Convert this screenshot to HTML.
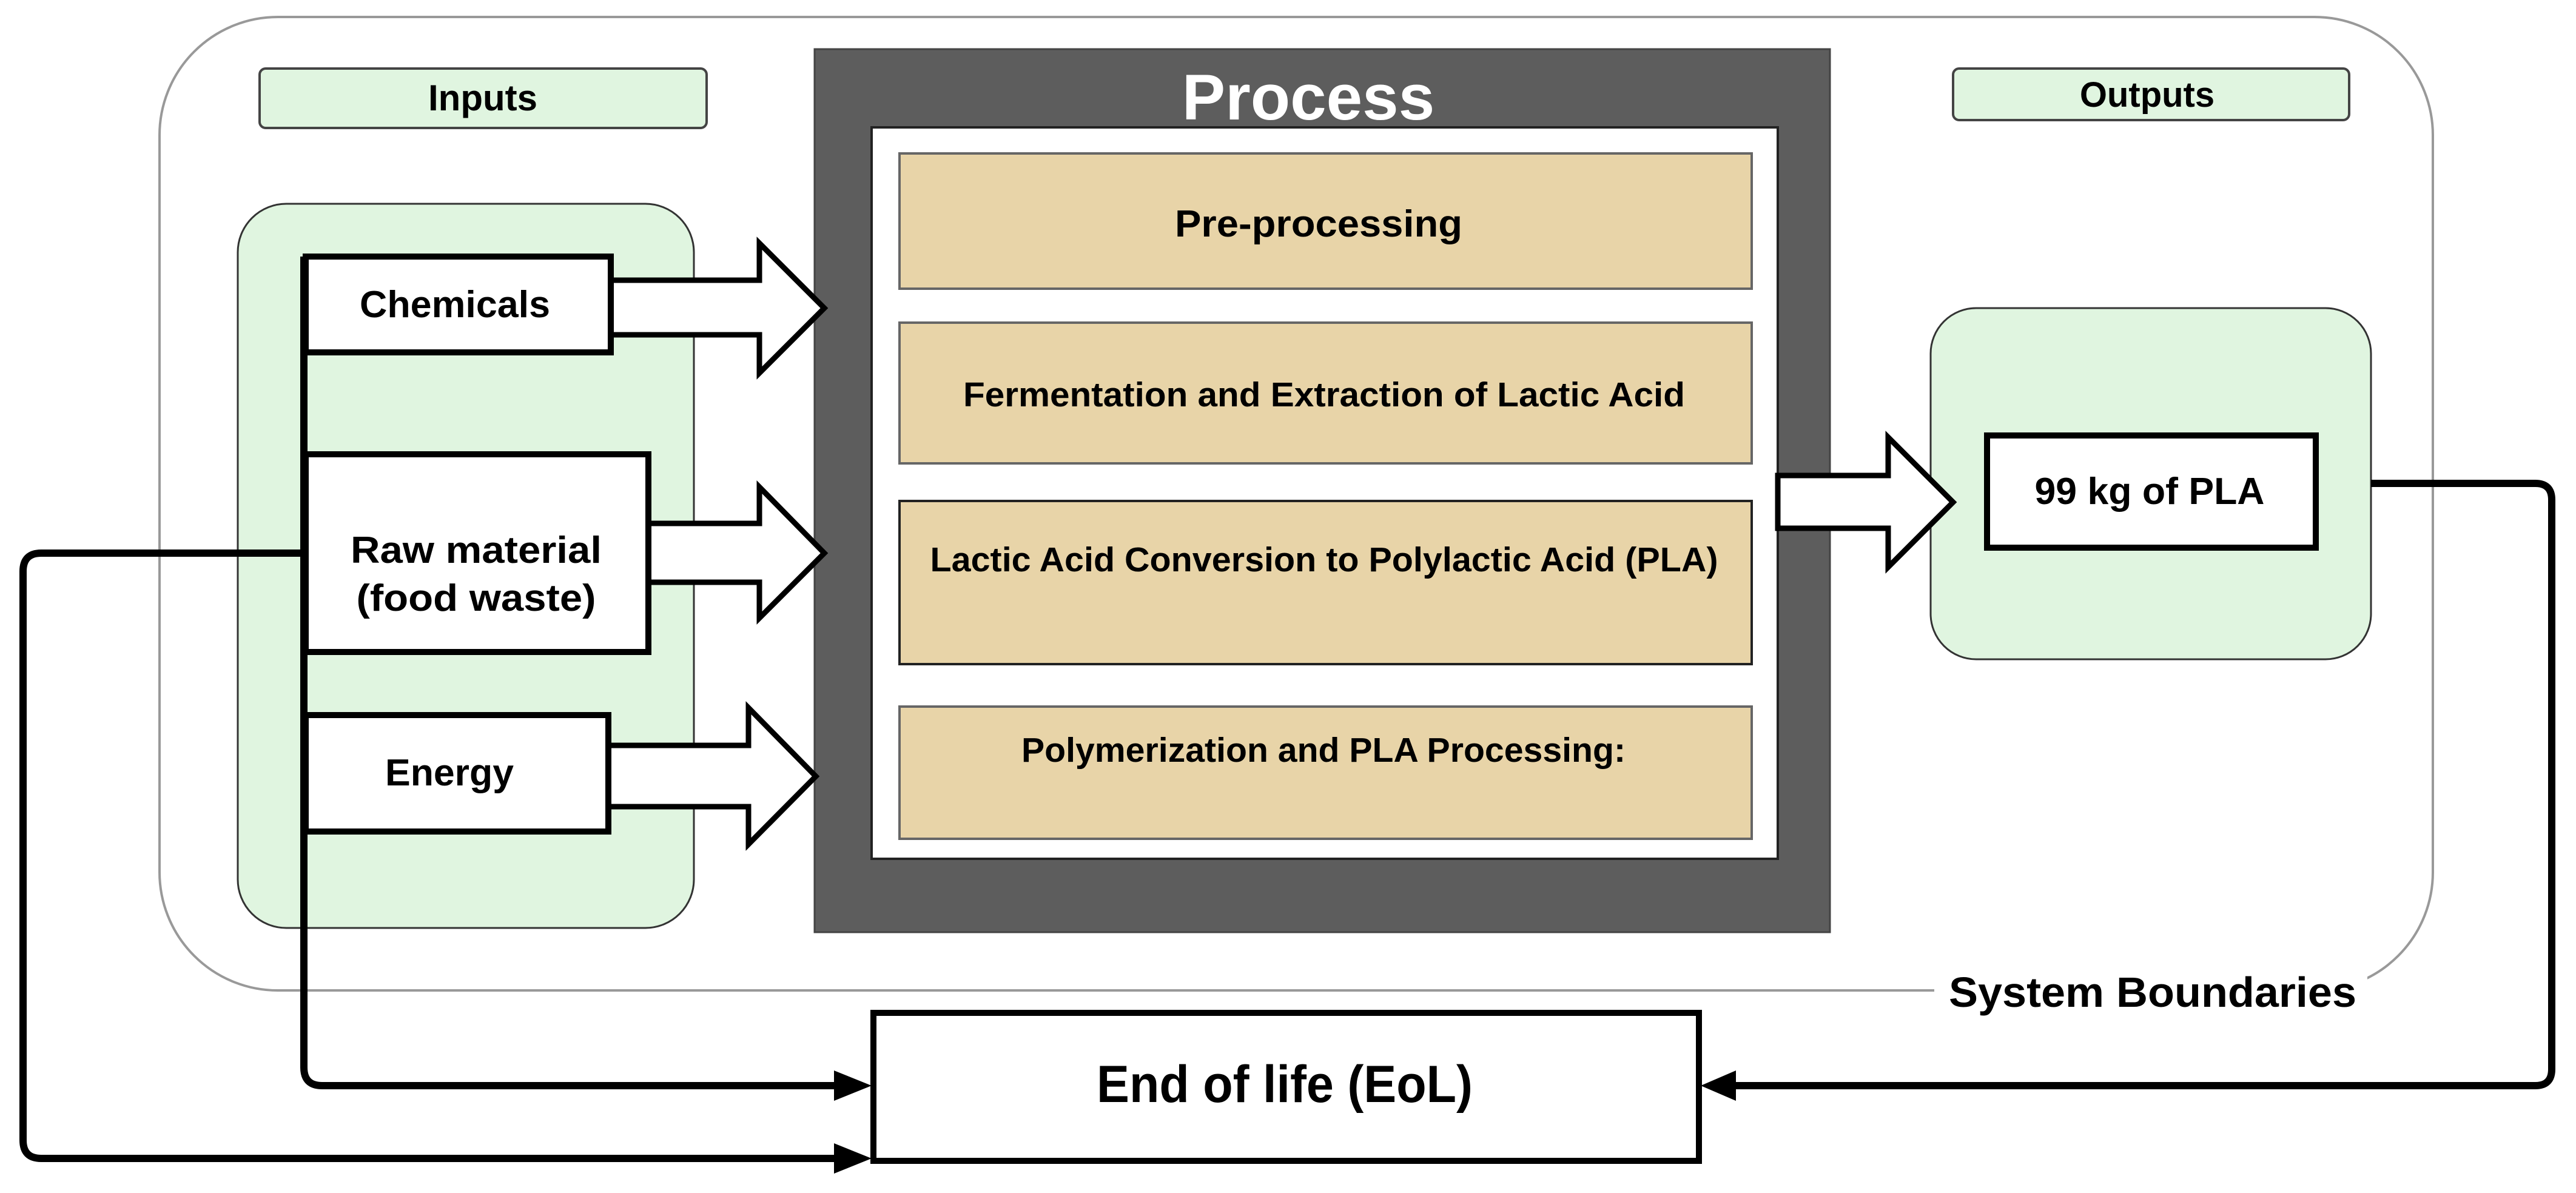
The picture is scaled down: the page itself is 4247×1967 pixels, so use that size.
<!DOCTYPE html>
<html><head><meta charset="utf-8"><style>
html,body{margin:0;padding:0;background:#fff;}
svg{display:block;}
text{font-family:"Liberation Sans",Arial,sans-serif;font-weight:bold;}
</style></head><body>
<svg width="4247" height="1967" viewBox="0 0 4247 1967" xmlns="http://www.w3.org/2000/svg">
<!-- system boundary -->
<rect x="263" y="28" width="3748" height="1605" rx="195" ry="195" fill="#fff" stroke="#999" stroke-width="4"/>
<!-- labels -->
<rect x="428" y="113" width="737" height="98" rx="10" fill="#e0f5e0" stroke="#444" stroke-width="4"/>
<text x="796" y="182" font-size="60" text-anchor="middle">Inputs</text>
<rect x="3220" y="113" width="653" height="85" rx="10" fill="#e0f5e0" stroke="#444" stroke-width="4"/>
<text x="3540" y="176" font-size="58" text-anchor="middle">Outputs</text>
<!-- input group -->
<rect x="392" y="336" width="752" height="1194" rx="80" fill="#e0f5e0" stroke="#333" stroke-width="3"/>
<!-- output group -->
<rect x="3183" y="508" width="726" height="579" rx="75" fill="#e0f5e0" stroke="#333" stroke-width="3"/>
<!-- process -->
<rect x="1343" y="81" width="1674" height="1456" fill="#5d5d5d" stroke="#444" stroke-width="3"/>
<text x="2157" y="197" font-size="107" fill="#fff" text-anchor="middle">Process</text>
<rect x="1437" y="210" width="1494" height="1206" fill="#fff" stroke="#222" stroke-width="4"/>
<g fill="#e8d4a8" stroke="#666" stroke-width="4">
<rect x="1483" y="253" width="1405" height="223"/>
<rect x="1483" y="532" width="1405" height="232"/>
<rect x="1483" y="826" width="1405" height="269" stroke="#222"/>
<rect x="1483" y="1165" width="1405" height="218"/>
</g>
<text x="2174" y="390" font-size="62" text-anchor="middle" textLength="474" lengthAdjust="spacingAndGlyphs">Pre-processing</text>
<text x="2183" y="670" font-size="57" text-anchor="middle" textLength="1190" lengthAdjust="spacingAndGlyphs">Fermentation and Extraction of Lactic Acid</text>
<text x="2183" y="942" font-size="57" text-anchor="middle" textLength="1299" lengthAdjust="spacingAndGlyphs">Lactic Acid Conversion to Polylactic Acid (PLA)</text>
<text x="2182" y="1256" font-size="57" text-anchor="middle" textLength="996" lengthAdjust="spacingAndGlyphs">Polymerization and PLA Processing:</text>
<!-- block arrows -->
<g fill="#fff" stroke="#000" stroke-width="9" stroke-linejoin="miter">
<polygon points="1007,462 1252,462 1252,401 1359,508 1252,615 1252,552 1007,552"/>
<polygon points="1069,863 1252,863 1252,803 1359,912 1252,1019 1252,960 1069,960"/>
<polygon points="1003,1229 1234,1229 1234,1167 1345,1280 1234,1392 1234,1330 1003,1330"/>
<polygon points="2931,784 3113,784 3113,721 3220,828 3113,935 3113,871 2931,871"/>
</g>
<!-- input boxes -->
<g fill="#fff" stroke="#000" stroke-width="10">
<rect x="504" y="423" width="503" height="158"/>
<rect x="504" y="749" width="565" height="326"/>
<rect x="504" y="1179" width="499" height="192"/>
<rect x="3276" y="718" width="542" height="185"/>
</g>
<text x="750" y="523" font-size="62" text-anchor="middle" textLength="314" lengthAdjust="spacingAndGlyphs">Chemicals</text>
<text x="785" y="928" font-size="62" text-anchor="middle" textLength="414" lengthAdjust="spacingAndGlyphs">Raw material</text>
<text x="785" y="1007" font-size="62" text-anchor="middle" textLength="395" lengthAdjust="spacingAndGlyphs">(food waste)</text>
<text x="741" y="1295" font-size="62" text-anchor="middle" textLength="212" lengthAdjust="spacingAndGlyphs">Energy</text>
<text x="3544" y="831" font-size="62" text-anchor="middle" textLength="379" lengthAdjust="spacingAndGlyphs">99 kg of PLA</text>
<!-- connectors -->
<g fill="none" stroke="#000" stroke-width="12" stroke-linejoin="round">
<path d="M501,423 L501,1760 Q501,1790 531,1790 L1380,1790"/>
<path d="M501,912 L68,912 Q38,912 38,942 L38,1880 Q38,1910 68,1910 L1380,1910"/>
<path d="M3909,797 L4180,797 Q4207,797 4207,824 L4207,1763 Q4207,1790 4180,1790 L2855,1790"/>
</g>
<g fill="#000">
<polygon points="1375,1765 1437,1790 1375,1815"/>
<polygon points="1375,1885 1437,1910 1375,1935"/>
<polygon points="2862,1765 2804,1790 2862,1815"/>
</g>
<!-- EoL -->
<rect x="1440" y="1670" width="1361" height="244" fill="#fff" stroke="#000" stroke-width="10"/>
<text x="2118" y="1817" font-size="86" text-anchor="middle" textLength="620" lengthAdjust="spacingAndGlyphs">End of life (EoL)</text>
<!-- system boundaries label -->
<rect x="3189" y="1592" width="714" height="134" fill="#fff"/>
<text x="3549" y="1660" font-size="70" text-anchor="middle" textLength="672" lengthAdjust="spacingAndGlyphs">System Boundaries</text>
</svg>
</body></html>
